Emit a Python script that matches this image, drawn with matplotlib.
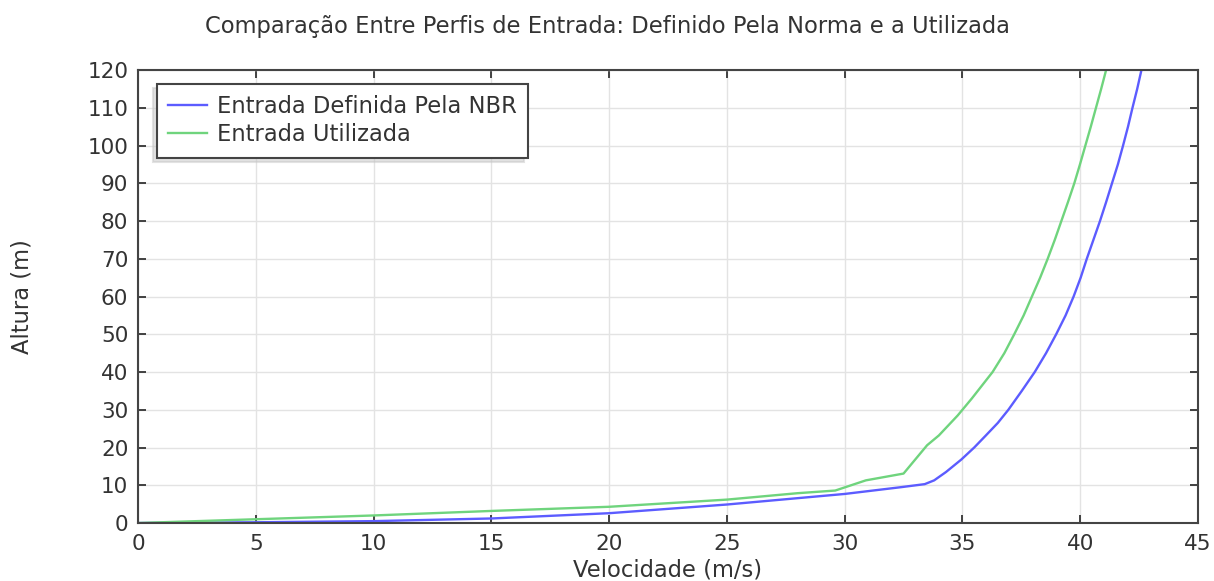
import matplotlib.pyplot as plt

# perfil NBR
vel_nbr = [0, 5, 10, 15, 20, 25, 30, 32.4, 33.4, 33.8, 34.3, 34.95, 35.5, 35.98, 36.5,
           36.95, 37.52, 38.07, 38.55, 38.98, 39.38, 39.72, 40.02, 40.28, 40.56, 40.84,
           41.1, 41.35, 41.6, 41.82, 42.03, 42.22, 42.42, 42.6]
alt_nbr = [0, 0.2, 0.5, 1.2, 2.6, 4.9, 7.7, 9.5, 10.3, 11.3, 13.5, 16.8, 20, 23.1, 26.5,
           30, 35, 40, 45, 50, 55, 60, 65, 70, 75, 80,
           85, 90, 95, 100, 105, 110, 115, 120]

# perfil utilizado
vel_uti = [0, 5, 10, 15, 20, 25, 28, 29.6, 30.9, 32.5, 33.5, 34.0, 34.8, 35.4,
           36.28, 36.78, 37.2, 37.6, 37.95, 38.3, 38.62, 38.92, 39.2, 39.48, 39.75,
           39.99, 40.22, 40.45, 40.67, 40.89, 41.1]
alt_uti = [0, 1.0, 2.0, 3.2, 4.3, 6.2, 7.9, 8.6, 11.3, 13.1, 20.6, 23.2, 28.5, 33.0,
           40, 45, 50, 55, 60, 65, 70, 75, 80, 85, 90,
           95, 100, 105, 110, 115, 120]

xticks = list(range(0, 50, 5))
yticks = list(range(0, 130, 10))

txt = '#333333'
plt.rcParams['font.family'] = 'DejaVu Sans'

fig = plt.figure(figsize=(12.14, 5.81), dpi=100)
ax = fig.add_axes([0.1137, 0.0998, 0.8731, 0.7797])

ax.plot(vel_nbr, alt_nbr, color='#5c5cff', lw=1.7, label='Entrada Definida Pela NBR')
ax.plot(vel_uti, alt_uti, color='#6fd47d', lw=1.7, label='Entrada Utilizada')

ax.set_xlim(0, 45)
ax.set_ylim(0, 120)
ax.set_xticks(xticks)
ax.set_yticks(yticks)
ax.grid(True, color='#e3e3e3', lw=1)
ax.set_axisbelow(True)
ax.tick_params(direction='in', top=True, right=True, length=6, width=1.3,
               color='#333333', labelsize=15.5, labelcolor=txt)
ax.tick_params(axis='x', pad=8)
ax.tick_params(axis='y', pad=7)
for s in ax.spines.values():
    s.set_color('#444444')
    s.set_linewidth(1.5)

ax.set_xlabel('Velocidade (m/s)', fontsize=16.3, color=txt)
ax.xaxis.set_label_coords(0.5, -0.104)
ax.xaxis.label.set_va('center')
ax.set_ylabel('Altura (m)', fontsize=16.3, color=txt)
ax.yaxis.set_label_coords(-0.109, 0.5)
ax.yaxis.label.set_va('center')

fig.text(0.5, 1 - 27 / 581, 'Comparação Entre Perfis de Entrada: Definido Pela Norma e a Utilizada',
         fontsize=16.3, color=txt, ha='center', va='center')

leg = ax.legend(loc='upper left', bbox_to_anchor=(0.018, 0.969), fontsize=16.3,
                fancybox=False, shadow={'ox': -3, 'oy': -3, 'shade': 0.22},
                framealpha=1, edgecolor='#444444', borderpad=0.5,
                handlelength=1.7, handletextpad=0.45, labelspacing=0.22,
                borderaxespad=0)
leg.get_frame().set_linewidth(1.5)
for t in leg.get_texts():
    t.set_color(txt)

fig.savefig('out.png', dpi=100)
